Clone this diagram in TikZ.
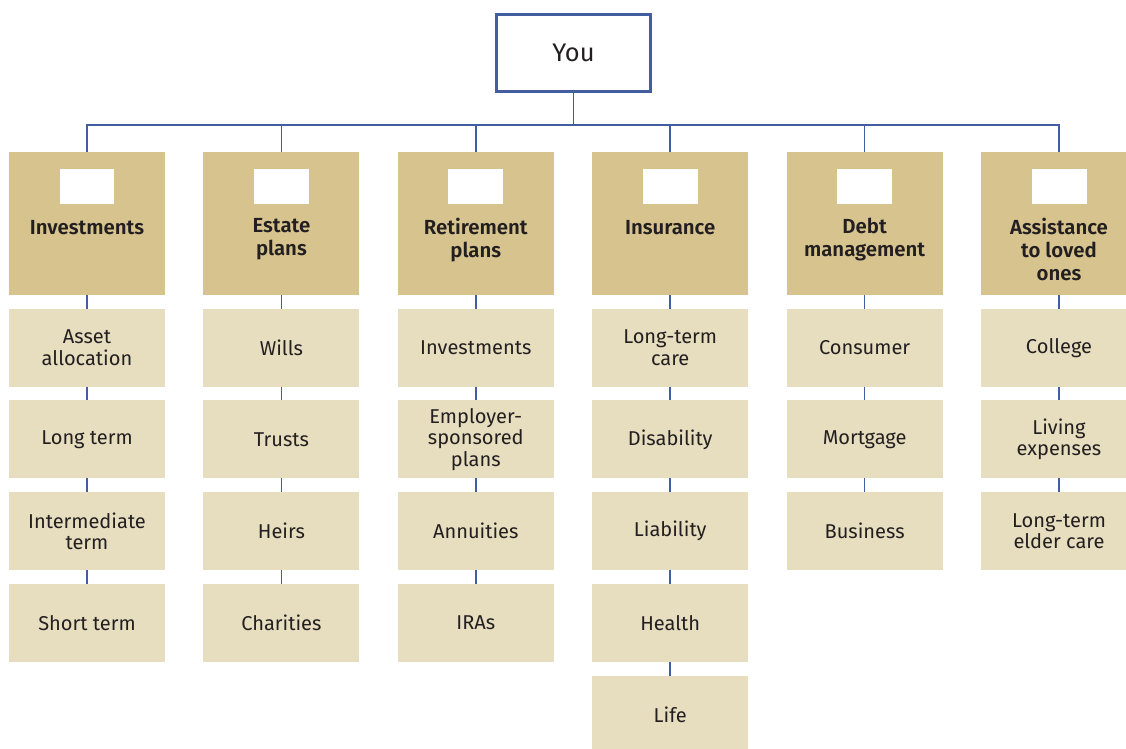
\documentclass[tikz,border=0pt]{standalone}
\usepackage{fontspec}
\setmainfont[BoldFont={Fira Sans SemiBold}]{Fira Sans}
\usetikzlibrary{positioning}

\definecolor{headtan}{RGB}{214,195,142}
\definecolor{itemtan}{RGB}{231,222,191}
\definecolor{linkblue}{RGB}{66,94,160}
\definecolor{inkgray}{RGB}{35,31,32}

\begin{document}
\begin{tikzpicture}[x=0.02cm, y=-0.02cm, node distance=0.275cm,
    every node/.style={inner sep=0pt, outer sep=0pt, align=center, text=inkgray},
    youbox/.style={draw=linkblue, line width=1.2pt, minimum width=3.08cm, minimum height=1.54cm,
        font=\fontsize{14.5}{17}\selectfont},
    headbox/.style={fill=headtan, minimum width=3.12cm, minimum height=2.86cm, anchor=north},
    tagbox/.style={fill=white, minimum width=1.1cm, minimum height=0.7cm},
    headtext/.style={font=\bfseries\fontsize{11.6}{13.1}\selectfont, execute at begin node=\strut},
    itembox/.style={fill=itemtan, minimum width=3.12cm, minimum height=1.56cm,
        font=\fontsize{11.4}{12.3}\selectfont},
    link/.style={draw=linkblue, line width=1pt}]
    \useasboundingbox (0,0) rectangle (1126,749);

    \node[youbox] (you) at (573.5,53) {You};
    \coordinate (bus) at (573.5,125);

    \node[headbox] (inv) at (87,152) {};
    \node[headbox] (est) at (281.4,152) {};
    \node[headbox] (ret) at (475.8,152) {};
    \node[headbox] (ins) at (670.2,152) {};
    \node[headbox] (debt) at (864.6,152) {};
    \node[headbox] (care) at (1059,152) {};

    \foreach \h/\t in {inv/Investments, est/Estate\\plans, ret/Retirement\\plans,
        ins/Insurance, debt/Debt\\management, care/Assistance\\to loved\\ones} {
        \node[tagbox, below=0.34cm of \h.north] (\h tag) {};
        \node[headtext, below=1.33cm of \h.north] (\h text) {\t};
        \draw[link] (you.south) -- (you.south |- bus) -| (\h.north);
    }

    \node[itembox, below=of inv] (asset) {Asset\\allocation};
    \node[itembox, below=of asset] (longt) {Long term};
    \node[itembox, below=of longt] (midt) {Intermediate\\term};
    \node[itembox, below=of midt] (shortt) {Short term};

    \node[itembox, below=of est] (wills) {Wills};
    \node[itembox, below=of wills] (trusts) {Trusts};
    \node[itembox, below=of trusts] (heirs) {Heirs};
    \node[itembox, below=of heirs] (charity) {Charities};

    \node[itembox, below=of ret] (retinv) {Investments};
    \node[itembox, below=of retinv] (employer) {Employer-\\sponsored\\plans};
    \node[itembox, below=of employer] (annuity) {Annuities};
    \node[itembox, below=of annuity] (iras) {IRAs};

    \node[itembox, below=of ins] (ltc) {Long-term\\care};
    \node[itembox, below=of ltc] (disab) {Disability};
    \node[itembox, below=of disab] (liab) {Liability};
    \node[itembox, below=of liab] (health) {Health};
    \node[itembox, below=of health] (life) {Life};

    \node[itembox, below=of debt] (consumer) {Consumer};
    \node[itembox, below=of consumer] (mortgage) {Mortgage};
    \node[itembox, below=of mortgage] (business) {Business};

    \node[itembox, below=of care] (college) {College};
    \node[itembox, below=of college] (living) {Living\\expenses};
    \node[itembox, below=of living] (elder) {Long-term\\elder care};

    \foreach \a/\b in {inv/asset, asset/longt, longt/midt, midt/shortt,
        est/wills, wills/trusts, trusts/heirs, heirs/charity,
        ret/retinv, retinv/employer, employer/annuity, annuity/iras,
        ins/ltc, ltc/disab, disab/liab, liab/health, health/life,
        debt/consumer, consumer/mortgage, mortgage/business,
        care/college, college/living, living/elder}
        \draw[link] (\a) -- (\b);
\end{tikzpicture}
\end{document}
